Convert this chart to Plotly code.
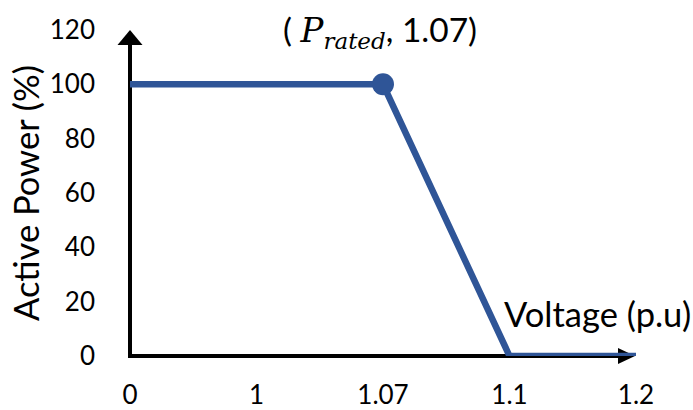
import plotly.graph_objects as go

# Data
voltage_ticks = ["0", "1", "1.07", "1.1", "1.2"]
active_power = [100, 100, 100, 0, 0]
rated_voltage = ["1.07"]
rated_power = [100]
y_ticks = [0, 20, 40, 60, 80, 100, 120]

BLUE = "#2F5597"
FONT = "Lato"

W, H = 693, 410
L, R, T, B = 130, 57, 30, 54
PW = W - L - R
PH = H - T - B

def px_x(px):
    return (px - L) / PW

def px_y(py):
    return (H - B - py) / PH

fig = go.Figure()
fig.add_trace(go.Scatter(
    x=voltage_ticks, y=active_power, mode="lines",
    line=dict(color=BLUE, width=6.5), hoverinfo="skip", showlegend=False,
))
fig.add_trace(go.Scatter(
    x=rated_voltage, y=rated_power, mode="markers",
    marker=dict(color=BLUE, size=22), hoverinfo="skip", showlegend=False,
))

shapes = [
    # y axis line
    dict(type="line", xref="paper", yref="paper", x0=0, x1=0,
         y0=px_y(358), y1=px_y(44), line=dict(color="black", width=4), layer="below"),
    # y axis arrowhead
    dict(type="path", xref="paper", yref="paper",
         path=f"M {px_x(117.5)} {px_y(45)} L {px_x(142.5)} {px_y(45)} L {px_x(130)} {px_y(30)} Z",
         fillcolor="black", line=dict(width=0), layer="below"),
    # x axis line
    dict(type="line", xref="paper", yref="paper", x0=px_x(128), x1=px_x(620),
         y0=0, y1=0, line=dict(color="black", width=4), layer="below"),
    # x axis arrowhead
    dict(type="path", xref="paper", yref="paper",
         path=f"M {px_x(618)} {px_y(348)} L {px_x(618)} {px_y(364)} L {px_x(635)} {px_y(356)} Z",
         fillcolor="black", line=dict(width=0), layer="below"),
]

MATH = "font-family:DejaVu Serif"
rated_label = (
    f"(&nbsp;<span style='{MATH};font-size:34px'><i>P</i></span>"
    f"<sub><span style='{MATH};font-size:23px'><i>rated</i></span></sub>,&nbsp;1.07)"
)

annotations = [
    dict(text="Active Power (%)", xref="paper", yref="paper", x=px_x(25), y=0.5,
         xanchor="center", yanchor="middle", textangle=-90, showarrow=False,
         font=dict(family=FONT, size=34.5, color="black")),
    dict(text="Voltage (p.u)", xref="paper", yref="paper", x=px_x(502), y=px_y(313),
         xanchor="left", yanchor="middle", showarrow=False,
         font=dict(family=FONT, size=34.5, color="black")),
    dict(text=rated_label,
         xref="paper", yref="paper", x=px_x(281), y=px_y(32),
         xanchor="left", yanchor="middle", showarrow=False,
         font=dict(family=FONT, size=33.5, color="black")),
]

fig.update_layout(
    width=W, height=H,
    margin=dict(l=L, r=R, t=T, b=B, autoexpand=False),
    paper_bgcolor="white", plot_bgcolor="white",
    shapes=shapes, annotations=annotations,
    xaxis=dict(type="category", categoryorder="array", categoryarray=voltage_ticks,
               range=[0, len(voltage_ticks) - 1], showgrid=False, zeroline=False,
               showline=False, ticks="", ticklabelstandoff=21, automargin=False,
               tickfont=dict(family=FONT, size=26, color="black")),
    yaxis=dict(range=[0, 120], tickvals=y_ticks, showgrid=False, zeroline=False,
               showline=False, ticks="", ticklabelstandoff=34, automargin=False,
               tickfont=dict(family=FONT, size=26, color="black")),
)

fig.write_html(
    "out.html",
    config={"displayModeBar": False},
    post_script="document.body.style.margin='0';document.body.style.overflow='hidden';",
)
